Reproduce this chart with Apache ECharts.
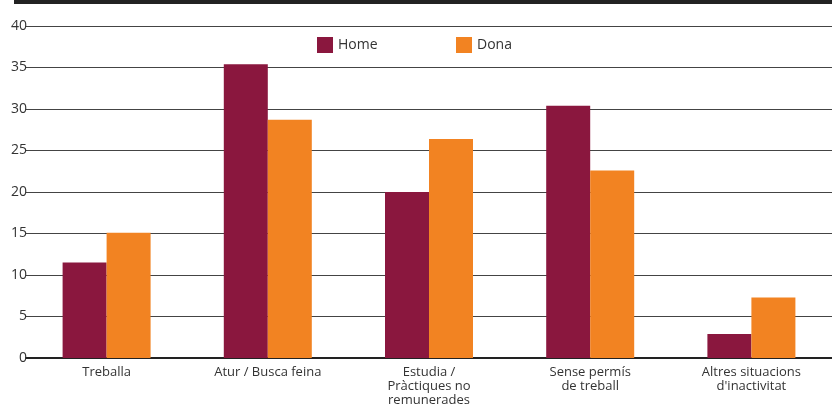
<!DOCTYPE html>
<html>
<head>
<meta charset="utf-8">
<script src="https://cdn.jsdelivr.net/npm/echarts@6/dist/echarts.min.js"></script>
<style>
  html, body { margin: 0; padding: 0; background: #fff; }
  #chart { width: 832px; height: 408px; }
</style>
</head>
<body>
<div id="chart"></div>
<script>
// categories and values
const categories = [
    'Treballa',
    'Atur / Busca feina',
    'Estudia /\nPràctiques no\nremunerades',
    'Sense permís\nde treball',
    'Altres situacions\nd\'inactivitat'
];
const homeValues = [11.5, 35.4, 20.0, 30.4, 2.9];
const donaValues = [15.1, 28.7, 26.4, 22.6, 7.3];
const yTicks = { min: 0, max: 40, interval: 5 };

const font = '"Open Sans", "Noto Sans", sans-serif';

var dom = document.getElementById('chart');
var myChart = echarts.init(dom, null, { renderer: 'canvas' });

var option = {
    animation: false,
    textStyle: { fontFamily: font },
    graphic: [{
        type: 'rect',
        shape: { x: 14, y: 0, width: 818, height: 4 },
        style: { fill: '#222' }
    }],
    legend: [{
        data: ['Home'],
        left: 312, top: 32,
        itemWidth: 16, itemHeight: 16, itemGap: 5,
        icon: 'rect',
        textStyle: { fontFamily: font, fontSize: 14, color: '#333' }
    }, {
        data: ['Dona'],
        left: 451, top: 32,
        itemWidth: 16, itemHeight: 16, itemGap: 5,
        icon: 'rect',
        textStyle: { fontFamily: font, fontSize: 14, color: '#333' }
    }],
    grid: { left: 26, right: 0, top: 26, bottom: 50 },
    xAxis: {
        type: 'category',
        data: categories,
        axisTick: { show: false },
        axisLine: { lineStyle: { color: '#222', width: 2 } },
        axisLabel: {
            fontFamily: font, fontSize: 13, color: '#333',
            lineHeight: 14, margin: 7, interval: 0
        }
    },
    yAxis: {
        type: 'value',
        min: yTicks.min, max: yTicks.max, interval: yTicks.interval,
        axisLine: { show: false },
        axisTick: { show: false },
        axisLabel: { fontFamily: font, fontSize: 14, color: '#333', margin: -1 },
        splitLine: { lineStyle: { color: '#444', width: 1 } }
    },
    series: [{
        name: 'Home',
        type: 'bar',
        data: homeValues,
        barWidth: 44,
        barGap: '0%',
        itemStyle: { color: '#8a173e' }
    }, {
        name: 'Dona',
        type: 'bar',
        data: donaValues,
        barWidth: 44,
        barGap: '0%',
        itemStyle: { color: '#f28322' }
    }]
};

myChart.setOption(option);
window.addEventListener('resize', myChart.resize);
</script>
</body>
</html>
